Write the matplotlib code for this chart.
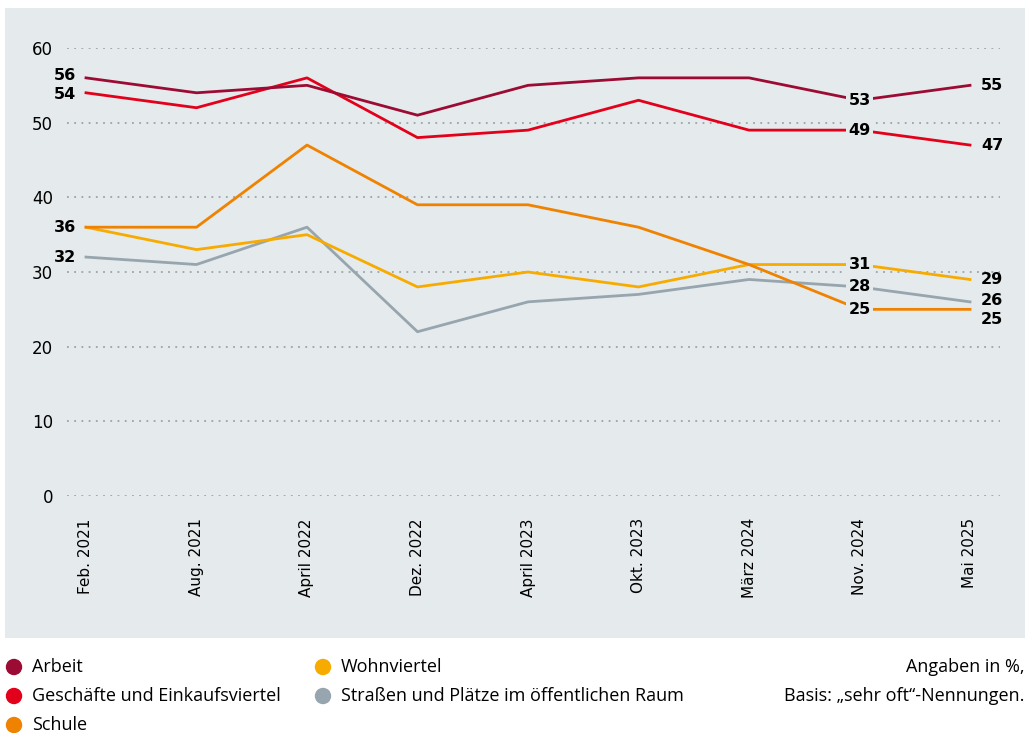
import matplotlib.pyplot as plt
from matplotlib.patches import Rectangle, Ellipse

# data
dates = ["Feb. 2021", "Aug. 2021", "April 2022", "Dez. 2022", "April 2023",
         "Okt. 2023", "März 2024", "Nov. 2024", "Mai 2025"]
arbeit = [56, 54, 55, 51, 55, 56, 56, 53, 55]
geschaefte = [54, 52, 56, 48, 49, 53, 49, 49, 47]
schule = [36, 36, 47, 39, 39, 36, 31, 25, 25]
wohnviertel = [36, 33, 35, 28, 30, 28, 31, 31, 29]
strassen = [32, 31, 36, 22, 26, 27, 29, 28, 26]

names = ["Arbeit", "Geschäfte und Einkaufsviertel", "Schule",
         "Wohnviertel", "Straßen und Plätze im öffentlichen Raum"]
colors = ["#9c0b33", "#e3001b", "#ef8200", "#f7ab00", "#97a5ae"]
series = [arbeit, geschaefte, schule, wohnviertel, strassen]

bg = "#e5eaec"
plt.rcParams['font.family'] = ['DejaVu Sans']

fig = plt.figure(figsize=(10.25, 7.33), dpi=100)
fig.patches.append(Rectangle((5 / 1025, 1 - 638 / 733), 1020 / 1025, 630 / 733,
                             transform=fig.transFigure, facecolor=bg,
                             edgecolor="none", zorder=-5))

ax = fig.add_axes([67 / 1025, 1 - 496 / 733, 933 / 1025, 448 / 733])
ax.set_facecolor("none")
x = list(range(len(dates)))
ax.set_xlim(-19 / 110.5, 8 + 30 / 110.5)
ax.set_ylim(0, 60)

for v in range(0, 61, 10):
    ax.axhline(v, color="#9aa4ab", lw=1.3, ls=(0, (1, 3)), zorder=1)

# draw in back-to-front order
for i in [4, 3, 2, 1, 0]:
    ax.plot(x, series[i], color=colors[i], lw=2, zorder=2, clip_on=False)

lbl = dict(fontsize=11.5, fontweight="bold", color="black")
# first point labels (small nudges so close labels don't collide)
first_dy = {0: 1.5, 1: -1.5, 2: 0, 4: 0}
for i, dy in first_dy.items():
    s = series[i]
    ax.annotate(str(s[0]), (0, s[0]), xytext=(-7, dy), textcoords="offset points",
                ha="right", va="center", **lbl)
# Nov labels, boxed to cut the line
for s in series:
    ax.annotate(str(s[7]), (7, s[7]), ha="center", va="center", zorder=3,
                bbox=dict(boxstyle="square,pad=0.15", fc=bg, ec="none"), **lbl)
# last point labels
last_dy = {0: 0, 1: 0, 2: -7, 3: 0, 4: 1}
for i, s in enumerate(series):
    ax.annotate(str(s[8]), (8, s[8]), xytext=(8, last_dy[i]),
                textcoords="offset points", ha="left", va="center", **lbl)

ax.set_xticks(x)
ax.set_xticklabels(dates, rotation=90, fontsize=11)
ax.set_yticks(range(0, 61, 10))
ax.tick_params(axis="y", labelsize=12, length=0, pad=10)
ax.tick_params(axis="x", length=0, pad=16)
for sp in ax.spines.values():
    sp.set_visible(False)

# legend
lf = ['Open Sans', 'DejaVu Sans']
leg_pos = [(14, 667), (14, 696), (14, 725), (323, 667), (323, 696)]
for (px, py), n, c in zip(leg_pos, names, colors):
    fig.patches.append(Ellipse((px / 1025, 1 - py / 733), 15 / 1025, 15 / 733,
                               transform=fig.transFigure, color=c))
    fig.text((px + 18) / 1025, 1 - py / 733, n, fontsize=13, va="center",
             family=lf)
fig.text(1024 / 1025, 1 - 667 / 733, "Angaben in %,", fontsize=13,
         ha="right", va="center", family=lf)
fig.text(1024 / 1025, 1 - 696 / 733, "Basis: „sehr oft“-Nennungen.",
         fontsize=13, ha="right", va="center", family=lf)

fig.savefig("out.png", dpi=100)
